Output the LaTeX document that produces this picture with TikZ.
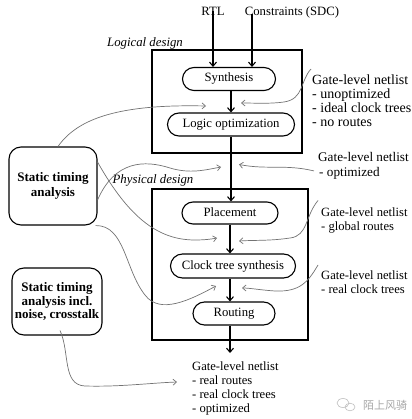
\documentclass[tikz,border=0pt]{standalone}
\usepackage{fontspec}
\setmainfont{Liberation Serif}
\newfontfamily\cjkfont{Noto Sans CJK SC}
\usetikzlibrary{shapes.misc,arrows.meta}
\begin{document}
\begin{tikzpicture}[x=1pt,y=-1pt,
 proc/.style={rounded rectangle, draw, line width=1.1pt, inner sep=0pt, minimum height=23pt, text height=8.5pt, text depth=2.5pt, font=\fontsize{12.7}{14}\selectfont},
 stabox/.style={draw, rounded corners=12pt, line width=1.1pt, align=center, inner sep=0pt},
 frame/.style={draw, line width=1.1pt},
 arr/.style={line width=1.1pt, -{Straight Barb[length=4pt,width=7pt]}},
 garr/.style={draw=black!55, line width=0.7pt, -{Straight Barb[length=3.5pt,width=6pt]}},
 note/.style={align=left, inner sep=0pt, anchor=north west, font=\fontsize{12.6}{14}\selectfont},
 lbl/.style={inner sep=0pt, font=\fontsize{12.7}{14}\selectfont},
 ]
\useasboundingbox (0,0) rectangle (411,419);

% frames
\draw[frame] (152,50) rectangle (302,153);
\draw[frame] (152,189) rectangle (308,340);
\node[lbl, font=\itshape\fontsize{12.8}{14}\selectfont] (ld) at (145,43) {Logical design};
\node[lbl, font=\itshape\fontsize{12.8}{14}\selectfont] (pd) at (153,180) {Physical design};

% inputs
\node[lbl, anchor=base] (rtl) at (213,16) {RTL};
\node[lbl, anchor=base] (cons) at (292,16) {Constraints (SDC)};
\coordinate (cx) at (252,0);
\coordinate (ax) at (231,0);

% process nodes
\node[proc, minimum width=93pt] (syn) at (229,79) {Synthesis};
\node[proc, minimum width=127pt] (lo) at (231,124.5) {Logic optimization};
\node[proc, minimum width=96pt, minimum height=22pt] (pl) at (230,213) {Placement};
\node[proc, minimum width=125pt, minimum height=24pt] (cts) at (233,266) {Clock tree synthesis};
\node[proc, minimum width=82pt] (rt) at (234,313.5) {Routing};
\coordinate (rend) at (230,353);

% main arrows
\draw[arr] ([yshift=5pt]rtl.south) -- (rtl.south |- syn.north);
\draw[arr] ([yshift=5pt]cons.south -| cx) -- (syn.north -| cx);
\draw[arr] (syn.south -| ax) -- (lo.north -| ax);
\draw[arr] (lo.south -| ax) -- (pl.north -| ax);
\coordinate (bx) at (230,0);
\draw[arr] (pl.south -| bx) -- (cts.north -| bx);
\draw[arr] (cts.south -| bx) -- (rt.north -| bx);
\draw[arr] (rt.south -| bx) -- (rend);

% STA boxes
\node[stabox, minimum width=88pt, minimum height=78pt, font=\bfseries\fontsize{13}{15.5}\selectfont] (sta) at (53,186) {Static timing\\analysis};
\node[stabox, minimum width=90pt, minimum height=67pt, font=\bfseries\fontsize{13}{13.6}\selectfont] (stn) at (57,301.5) {Static timing\\analysis incl.\\noise, crosstalk};

% notes
\node[note, font=\fontsize{14}{13.7}\selectfont] (n1) at (312,75) {Gate-level netlist\\- unoptimized\\- ideal clock trees\\- no routes};
\node[note, font=\fontsize{13.2}{14.5}\selectfont] (n2) at (318,152.5) {Gate-level netlist\\\hspace*{1pt}- optimized};
\node[note] (n3) at (321,207.5) {Gate-level netlist\\- global routes};
\node[note] (n4) at (321,271) {Gate-level netlist\\- real clock trees};
\node[note] (n5) at (192,362) {Gate-level netlist\\- real routes\\- real clock trees\\- optimized};

% annotation curves (right)
\draw[garr] ([xshift=-1pt,yshift=6pt]n1.north west) .. controls (300,81) and (304,99) .. (284,102) .. controls (270,104) and (255,103) .. (241,103);
\draw[garr] ([xshift=-4pt,yshift=-5pt]n2.west) .. controls (285,164) and (268,170) .. (239,164.5);
\draw[garr] ([xshift=-3pt,yshift=7pt]n3.north west) .. controls (305,216) and (308,236) .. (290,238) .. controls (270,241) and (255,240) .. (239,241);
\draw[garr] ([xshift=-3pt,yshift=6pt]n4.north west) .. controls (308,282) and (300,292) .. (275,291) .. controls (260,290) and (250,288) .. (242,288);

% annotation curves (left)
\draw[garr] ([xshift=5pt]sta.north) .. controls (78,118) and (120,104) .. (206,106);
\draw[garr] ([yshift=-14pt]sta.east) .. controls (115,160) and (145,160) .. (170,168) .. controls (190,174) and (205,170) .. (221,167);
\draw[garr] ([yshift=24pt]sta.east) .. controls (130,220) and (160,240) .. (195,240) .. controls (205,240) and (212,239) .. (217,238);
\draw[garr] ([xshift=-2pt]sta.south east) .. controls (125,225) and (125,270) .. (145,295) .. controls (160,315) and (190,300) .. (216,286);
\draw[garr] ([xshift=3pt,yshift=5pt]stn.south) .. controls (70,352) and (62,385) .. (85,386) .. controls (120,387) and (150,383) .. (177,382);

% watermark
\draw[black!25, line width=0.6pt] (343,403) ellipse (6 and 4.5);
\draw[black!25, line width=0.6pt] (350,407) ellipse (5 and 3.8);
\node[inner sep=0pt, text=black!35, font=\cjkfont\fontsize{11}{12}\selectfont] (wm) at (385,405) {陌上风骑};
\end{tikzpicture}
\end{document}
